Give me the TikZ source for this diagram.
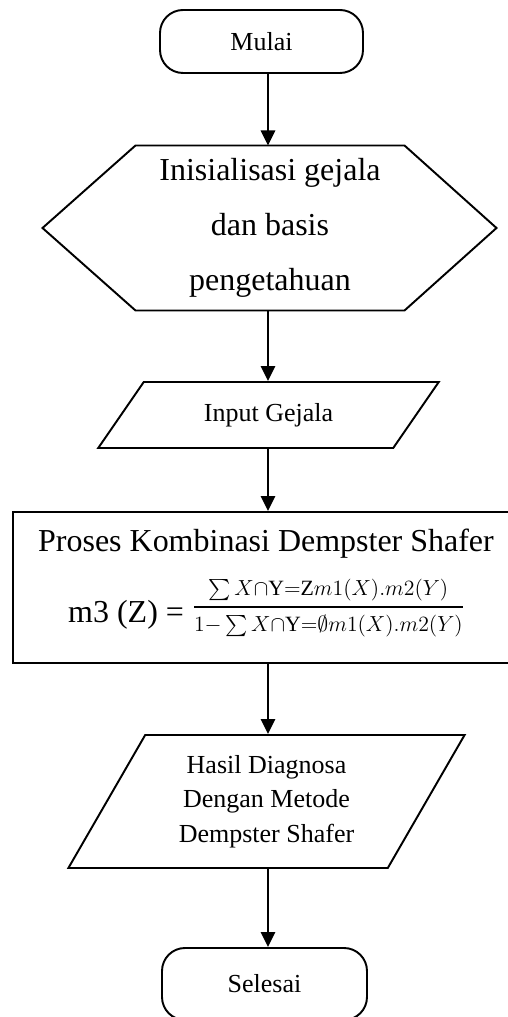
\documentclass[tikz,border=0pt]{standalone}
\usepackage{fix-cm}
\usepackage{amsmath}
\usepackage{fontspec}
\setmainfont{Liberation Serif}
\usetikzlibrary{arrows.meta,shapes.geometric,calc}
\tikzset{
  term/.style={
    shape = rectangle,
    rounded corners = 0.46cm,
    draw,
    line width = 1.1pt,
    minimum width = 4.06cm,
    minimum height = 1.26cm,
    font = \fontsize{14.8}{17}\selectfont
  },
  hexa/.style={
    shape = rectangle,
    inner sep = 0pt,
    outer sep = 0pt,
    minimum width = 5.38cm,
    minimum height = 3.3cm,
    align = center,
    font = \fontsize{18.2}{31.3}\selectfont
  },
  iobox/.style={
    shape = trapezium,
    trapezium stretches = true,
    draw,
    line width = 1.1pt,
    inner sep = 0pt,
    align = center,
    font = \fontsize{14.8}{19.6}\selectfont
  },
  prosbox/.style={
    shape = rectangle,
    draw,
    line width = 1.1pt,
    minimum width = 9.96cm,
    minimum height = 3.02cm
  },
  besar/.style={
    anchor = base,
    inner sep = 0pt,
    font = \fontsize{18.2}{22}\selectfont
  },
  alir/.style={
    -{Triangle[width=0.28cm,length=0.3cm]},
    line width = 1.5pt
  },
}

\begin{document}
\begin{tikzpicture}
\useasboundingbox (0,0) rectangle (10.16,20.34);
\coordinate (poros) at (5.36,0);
\node[term] (mulai) at (5.23,19.51) {Mulai};
\node[hexa] (init) at (5.40,15.78) {Inisialisasi gejala\\dan basis\\pengetahuan};
\draw[line width=1.1pt] (init.north west) -- (init.north east) -- ([xshift=1.84cm]init.east)
      -- (init.south east) -- (init.south west) -- ([xshift=-1.86cm]init.west) -- cycle;
\node[iobox, trapezium left angle=45, trapezium right angle=135,
      minimum width=6.86cm, minimum height=1.32cm] (input) at (5.37,12.04) {Input Gejala};
\node[prosbox] (proses) at (5.24,8.59) {};
\node[besar] (judul) at (5.32,9.30) {Proses Kombinasi Dempster Shafer};
\node[besar] (rumus) at (5.33,7.88) {m3 (Z) = \raisebox{6pt}{\fontsize{12.4}{15}\selectfont
      $\genfrac{}{}{1pt}{0}{\sum X{\cap}\mathrm{Y}{=}\mathrm{Z}m1(X).m2(Y)}
             {\rule{0pt}{10.5pt}1{-}\sum X{\cap}\mathrm{Y}{=}\emptyset m1(X).m2(Y)}$}};
\node[iobox, trapezium left angle=59, trapezium right angle=121,
      minimum width=7.94cm, minimum height=2.66cm] (hasil) at (5.33,4.31)
      {Hasil Diagnosa\\Dengan Metode\\Dempster Shafer};
\node[term, minimum width=4.10cm, minimum height=1.44cm] (selesai) at (5.29,0.66) {Selesai};
		  \foreach \a/\b in {mulai/init,init/input,input/proses,proses/hasil,hasil/selesai}{
		    \draw[alir] (\a.south -| poros) -- (\b.north -| poros); }
\end{tikzpicture}
\end{document}
